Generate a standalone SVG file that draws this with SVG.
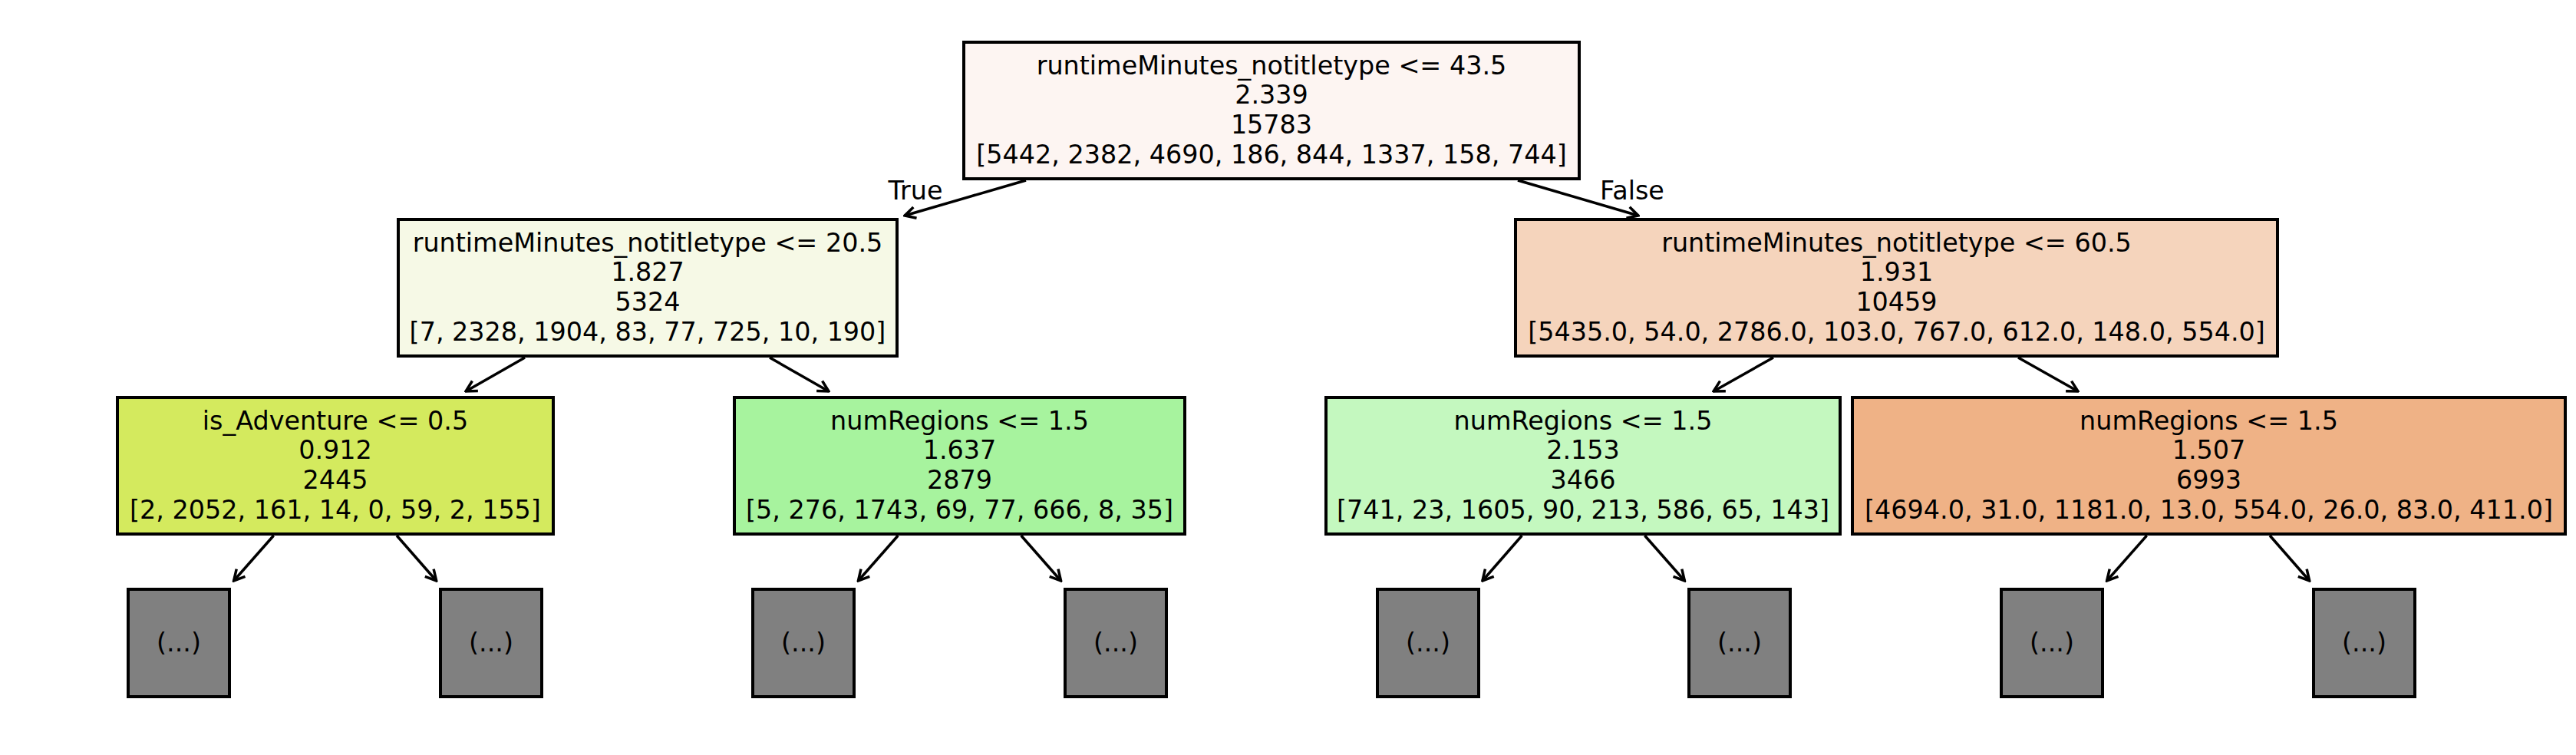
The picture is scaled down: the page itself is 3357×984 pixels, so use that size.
<svg xmlns="http://www.w3.org/2000/svg" width="3357" height="984" viewBox="0 0 3357 984">
<style>
  .box { stroke: #000; stroke-width: 4; }
  .leaf { fill: #808080; stroke: #000; stroke-width: 4; }
  text { font-family: "DejaVu Sans", "Liberation Sans", sans-serif; font-size: 33.4px; fill: #000; text-anchor: middle; }
  .edge { stroke: #000; stroke-width: 3.5; fill: none; marker-end: url(#arr); }
</style>
<defs>
  <marker id="arr" markerUnits="userSpaceOnUse" viewBox="-16 -10 18 20" refX="0" refY="0" markerWidth="18" markerHeight="20" orient="auto">
    <path d="M-14,-7.5 L0,0 L-14,7.5" fill="none" stroke="#000" stroke-width="3.5" stroke-linejoin="miter"/>
  </marker>
</defs>
<rect width="3357" height="984" fill="#ffffff"/>

<g id="connectors">
  <line class="edge" x1="1337" y1="235" x2="1179" y2="281"/>
  <line class="edge" x1="1978" y1="235" x2="2135" y2="281"/>
  <line class="edge" x1="684" y1="466" x2="607" y2="510"/>
  <line class="edge" x1="1003" y1="466" x2="1080" y2="510"/>
  <line class="edge" x1="2311" y1="466" x2="2233" y2="510"/>
  <line class="edge" x1="2630" y1="466" x2="2708" y2="510"/>
  <line class="edge" x1="356.6" y1="698" x2="304.6" y2="757"/>
  <line class="edge" x1="517" y1="698" x2="568.7" y2="757"/>
  <line class="edge" x1="1170.3" y1="698" x2="1118.4" y2="757"/>
  <line class="edge" x1="1330.7" y1="698" x2="1382.6" y2="757"/>
  <line class="edge" x1="1983.4" y1="698" x2="1931.9" y2="757"/>
  <line class="edge" x1="2143.4" y1="698" x2="2195.4" y2="757"/>
  <line class="edge" x1="2797.6" y1="698" x2="2745.6" y2="757"/>
  <line class="edge" x1="2958" y1="698" x2="3009.7" y2="757"/>
  <text x="1193" y="260">True</text>
  <text x="2127" y="260">False</text>
</g>

<g id="node-root">
  <rect class="box" x="1256" y="55" width="802" height="178" fill="#fdf5f2"/>
  <text x="1657" y="96.5">runtimeMinutes_notitletype &lt;= 43.5</text>
  <text x="1657" y="135.2">2.339</text>
  <text x="1657" y="173.9">15783</text>
  <text x="1657" y="212.6">[5442, 2382, 4690, 186, 844, 1337, 158, 744]</text>
</g>

<g id="node-l1-left">
  <rect class="box" x="519" y="286" width="650" height="178" fill="#f6f9e6"/>
  <text x="844" y="327.5">runtimeMinutes_notitletype &lt;= 20.5</text>
  <text x="844" y="366.2">1.827</text>
  <text x="844" y="404.9">5324</text>
  <text x="844" y="443.6">[7, 2328, 1904, 83, 77, 725, 10, 190]</text>
</g>

<g id="node-l1-right">
  <rect class="box" x="1975" y="286" width="993" height="178" fill="#f5d4bc"/>
  <text x="2471.5" y="327.5">runtimeMinutes_notitletype &lt;= 60.5</text>
  <text x="2471.5" y="366.2">1.931</text>
  <text x="2471.5" y="404.9">10459</text>
  <text x="2471.5" y="443.6">[5435.0, 54.0, 2786.0, 103.0, 767.0, 612.0, 148.0, 554.0]</text>
</g>

<g id="node-l2-1">
  <rect class="box" x="153" y="518" width="568" height="178" fill="#d4ea5e"/>
  <text x="437" y="559.5">is_Adventure &lt;= 0.5</text>
  <text x="437" y="598.2">0.912</text>
  <text x="437" y="636.9">2445</text>
  <text x="437" y="675.6">[2, 2052, 161, 14, 0, 59, 2, 155]</text>
</g>

<g id="node-l2-2">
  <rect class="box" x="957" y="518" width="587" height="178" fill="#a7f39e"/>
  <text x="1250.5" y="559.5">numRegions &lt;= 1.5</text>
  <text x="1250.5" y="598.2">1.637</text>
  <text x="1250.5" y="636.9">2879</text>
  <text x="1250.5" y="675.6">[5, 276, 1743, 69, 77, 666, 8, 35]</text>
</g>

<g id="node-l2-3">
  <rect class="box" x="1728" y="518" width="670" height="178" fill="#c4f8bf"/>
  <text x="2063" y="559.5">numRegions &lt;= 1.5</text>
  <text x="2063" y="598.2">2.153</text>
  <text x="2063" y="636.9">3466</text>
  <text x="2063" y="675.6">[741, 23, 1605, 90, 213, 586, 65, 143]</text>
</g>

<g id="node-l2-4">
  <rect class="box" x="2414" y="518" width="929" height="178" fill="#efb286"/>
  <text x="2878.5" y="559.5">numRegions &lt;= 1.5</text>
  <text x="2878.5" y="598.2">1.507</text>
  <text x="2878.5" y="636.9">6993</text>
  <text x="2878.5" y="675.6">[4694.0, 31.0, 1181.0, 13.0, 554.0, 26.0, 83.0, 411.0]</text>
</g>

<g id="leaf-1"><rect class="leaf" x="167" y="768" width="132" height="140"/><text x="233" y="849">(...)</text></g>
<g id="leaf-2"><rect class="leaf" x="574" y="768" width="132" height="140"/><text x="640" y="849">(...)</text></g>
<g id="leaf-3"><rect class="leaf" x="981" y="768" width="132" height="140"/><text x="1047" y="849">(...)</text></g>
<g id="leaf-4"><rect class="leaf" x="1388" y="768" width="132" height="140"/><text x="1454" y="849">(...)</text></g>
<g id="leaf-5"><rect class="leaf" x="1795" y="768" width="132" height="140"/><text x="1861" y="849">(...)</text></g>
<g id="leaf-6"><rect class="leaf" x="2201" y="768" width="132" height="140"/><text x="2267" y="849">(...)</text></g>
<g id="leaf-7"><rect class="leaf" x="2608" y="768" width="132" height="140"/><text x="2674" y="849">(...)</text></g>
<g id="leaf-8"><rect class="leaf" x="3015" y="768" width="132" height="140"/><text x="3081" y="849">(...)</text></g>
</svg>
